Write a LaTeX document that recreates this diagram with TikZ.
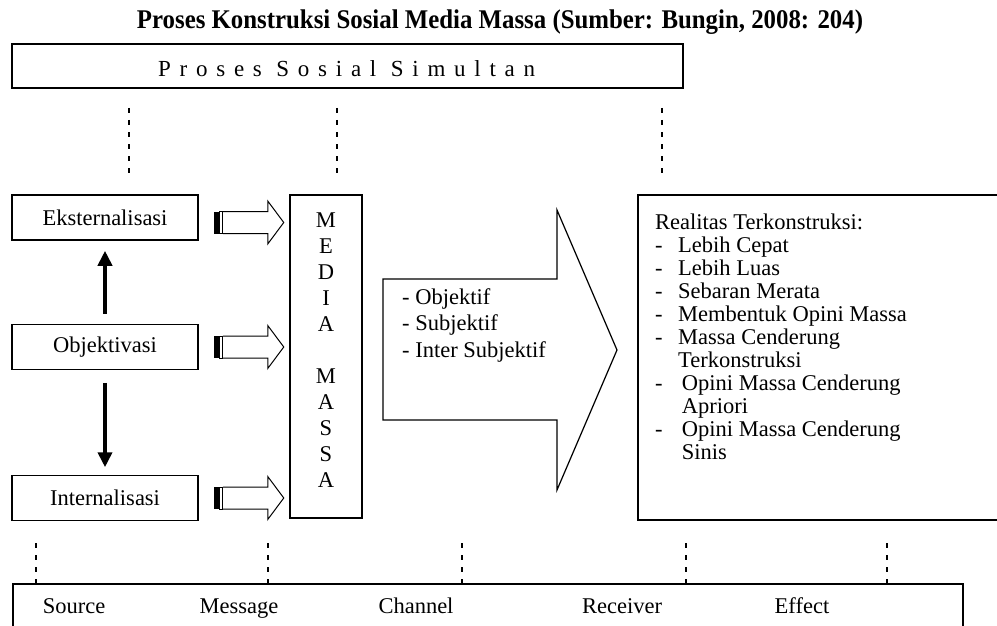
\documentclass[tikz,border=0pt]{standalone}
\usepackage{fontspec}
\setmainfont{Liberation Serif}
\newfontfamily\titlefont{Liberation Serif}[FakeStretch=0.92]
\newfontfamily\spacedfont{Liberation Serif}[LetterSpace=38]
\usetikzlibrary{arrows.meta}

\tikzset{
	box/.style={draw, line width=1.5pt, inner sep=0pt},
	sidebox/.style={box, minimum width=186pt, minimum height=45pt},
	guide/.style={line width=1.5pt, dash pattern=on 5pt off 7pt},
	lift/.style={line width=4pt, -{Triangle[width=14pt,length=15pt]}},
	chainlabel/.style={anchor=base},
}

\begin{document}
\begin{tikzpicture}[x=1pt, y=-1pt, font=\fontsize{22.5}{23}\selectfont]
	\useasboundingbox (0,0) rectangle (997,626);

	% striped block arrow, #1 = its tail
	\newcommand*{\blockarrow}[1]{%
		\begin{scope}[shift={(#1)}, line width=1pt]
			\fill (0,-11) rectangle (6,11);
			\draw (6,-11) rectangle (9,11);
			\draw (9,-11) -- (54,-11) -- (54,-21.5) -- (70,0) -- (54,21.5) -- (54,11) -- (9,11);
		\end{scope}}

	\node[font=\titlefont\bfseries\fontsize{27}{30}\selectfont] (title) at (500,22)
		{Proses Konstruksi Sosial Media Massa (Sumber: Bungin, 2008: 204)};

	\node[box, line width=1.8pt, minimum width=671pt, minimum height=44pt] (simultan) at (347.5,66) {};
	\node[anchor=west, inner sep=0pt, font=\spacedfont\fontsize{23}{23}\selectfont] (simtext) at (158,69)
		{Proses Sosial Simultan};

	\foreach \x in {129, 337, 662}
		\draw[guide] (\x,108) -- (\x,173);

	% source side
	\node[sidebox] (eks) at (105,217.5) {Eksternalisasi};
	\node[sidebox] (obj) at (105,347) {Objektivasi};
	\node[sidebox] (int) at (105,498) {Internalisasi};
	\draw[lift, shorten <=10pt, shorten >=10pt] (obj.north) -- (eks.south);
	\draw[lift, shorten <=12.5pt, shorten >=7.5pt] (obj.south) -- (int.north);

	\coordinate (t1) at ([xshift=15pt, yshift=-5pt]eks.east);
	\coordinate (t2) at ([xshift=15pt]obj.east);
	\coordinate (t3) at ([xshift=15pt]int.east);
	\blockarrow{t1}
	\blockarrow{t2}
	\blockarrow{t3}

	\node[box, minimum width=72pt, minimum height=323pt] (media) at (326,356.5) {};
	\node[align=center, font=\fontsize{22.5}{26}\selectfont] (medtext) at ([yshift=6pt]media.center)
		{M\\E\\D\\I\\A\\[26pt]M\\A\\S\\S\\A};

	% channel arrow
	\draw[line width=1.2pt] (383,279) -- (557,279) -- (557,210) -- (617,350)
		-- (557,490) -- (557,420) -- (383,420) -- cycle;
	\node[anchor=north west, align=left, inner sep=0pt, font=\fontsize{22.5}{26.5}\selectfont] (sifat) at (402,288)
		{- Objektif\\- Subjektif\\- Inter Subjektif};

	% effect
	\node[box, anchor=north west, minimum width=380pt, minimum height=325pt] (real) at (637,194) {};
	\newcommand*{\itm}[1]{\makebox[23pt][l]{-}#1}
	\node[anchor=north west, align=left, inner sep=0pt] (realtext) at ([shift={(18pt,-20pt)}]real.north west)
		{Realitas Terkonstruksi:\\
		\itm{Lebih Cepat}\\
		\itm{Lebih Luas}\\
		\itm{Sebaran Merata}\\
		\itm{Membentuk Opini Massa}\\
		\itm{Massa Cenderung}\\
		\hspace*{23pt}Terkonstruksi\\
		\itm{\,Opini Massa Cenderung}\\
		\hspace*{23pt}\,Apriori\\
		\itm{\,Opini Massa Cenderung}\\
		\hspace*{23pt}\,Sinis};

	% communication chain
	\foreach \x in {36, 268, 462, 686, 887}
		\draw[guide] (\x,543) -- (\x,583);
	\node[box, anchor=north west, minimum width=950pt, minimum height=80pt] (chain) at (12,583) {};
	\node[chainlabel] (src) at (74,613) {Source};
	\node[chainlabel] (msg) at (239,613) {Message};
	\node[chainlabel] (chn) at (416,613) {Channel};
	\node[chainlabel] (rcv) at (622,613) {Receiver};
	\node[chainlabel] (eff) at (802,613) {Effect};
\end{tikzpicture}
\end{document}
